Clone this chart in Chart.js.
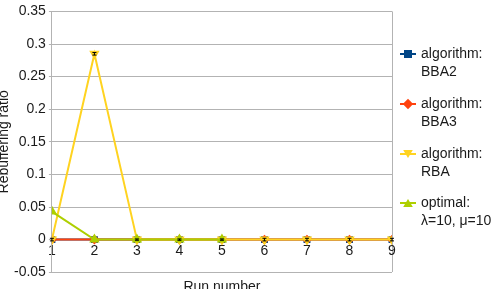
<!DOCTYPE html>
<html>
<head>
<meta charset="utf-8">
<script src="https://cdn.jsdelivr.net/npm/chart.js@4"></script>
<style>
  html, body { margin: 0; padding: 0; background: #fff; }
  #wrap { width: 502px; height: 289px; }
</style>
</head>
<body>
<div id="wrap"><canvas id="cv"></canvas></div>
<script>
var runs = [1, 2, 3, 4, 5, 6, 7, 8, 9];
var bba2 = [0, 0, 0, 0, 0, 0, 0, 0, 0];
var bba3 = [0, 0, 0, 0, 0, 0, 0, 0, 0];
var rba = [0, 0.285, 0, 0, 0, 0, 0, 0, 0];
var rbaErr = [0.002, 0.002, 0.001, 0.001, 0.001, 0.002, 0.002, 0.002, 0.002];
var optimal = [0.043, 0, 0, 0, 0];
var seriesNames = [['algorithm:', 'BBA2'], ['algorithm:', 'BBA3'], ['algorithm:', 'RBA'], ['optimal:', 'λ=10, μ=10']];
var yTicks = [-0.05, 0, 0.05, 0.1, 0.15, 0.2, 0.25, 0.3, 0.35];

var FONT = '"Liberation Sans", Arial, sans-serif';
var GRID = '#b3b3b3';

function pts(vals) {
  return vals.map(function (v, i) { return { x: runs[i], y: v }; });
}

// little marker shapes, used by the legend
function marker(ctx, style, x, y, r, color) {
  ctx.save();
  ctx.fillStyle = color;
  ctx.beginPath();
  if (style === 'rect') {
    ctx.rect(x - r, y - r, 2 * r, 2 * r);
  } else if (style === 'rectRot') {
    ctx.moveTo(x, y - r * 1.3); ctx.lineTo(x + r * 1.3, y); ctx.lineTo(x, y + r * 1.3); ctx.lineTo(x - r * 1.3, y);
  } else if (style === 'down') {
    ctx.moveTo(x - r * 1.2, y - r); ctx.lineTo(x + r * 1.2, y - r); ctx.lineTo(x, y + r);
  } else {
    ctx.moveTo(x - r * 1.2, y + r); ctx.lineTo(x + r * 1.2, y + r); ctx.lineTo(x, y - r);
  }
  ctx.closePath();
  ctx.fill();
  ctx.restore();
}

var sideLegend = {
  id: 'sideLegend',
  afterDraw: function (chart) {
    var ctx = chart.ctx;
    var styles = ['rect', 'rectRot', 'down', 'up'];
    var ys = [54, 104, 154, 203];
    ctx.save();
    ctx.font = '14px ' + FONT;
    ctx.textBaseline = 'middle';
    chart.data.datasets.forEach(function (ds, i) {
      var y = ys[i];
      ctx.strokeStyle = ds.borderColor;
      ctx.lineWidth = 2;
      ctx.beginPath(); ctx.moveTo(400, y); ctx.lineTo(416, y); ctx.stroke();
      marker(ctx, styles[i], 408, y, 4, ds.borderColor);
      ctx.fillStyle = '#1a1a1a';
      seriesNames[i].forEach(function (line, k) {
        ctx.fillText(line, 421, y + k * 18);
      });
    });
    ctx.restore();
  }
};

var errorBars = {
  id: 'errorBars',
  afterDatasetsDraw: function (chart) {
    var ctx = chart.ctx;
    var meta = chart.getDatasetMeta(2);
    var ys = chart.scales.y;
    ctx.save();
    ctx.strokeStyle = '#000';
    ctx.lineWidth = 1;
    meta.data.forEach(function (p, i) {
      var v = rba[i];
      var top = ys.getPixelForValue(v + rbaErr[i]);
      var bot = ys.getPixelForValue(v - rbaErr[i]);
      ctx.beginPath();
      ctx.moveTo(p.x, top); ctx.lineTo(p.x, bot);
      ctx.moveTo(p.x - 2, top); ctx.lineTo(p.x + 2, top);
      ctx.moveTo(p.x - 2, bot); ctx.lineTo(p.x + 2, bot);
      ctx.stroke();
    });
    ctx.restore();
  }
};

var ctx = document.getElementById('cv').getContext('2d');

var myChart = new Chart(ctx, {
  type: 'line',
  data: {
    datasets: [
      { label: 'algorithm: BBA2', data: pts(bba2), borderColor: '#004586', backgroundColor: '#004586',
        pointStyle: 'rect', pointRadius: 3.5, borderWidth: 2, order: 4 },
      { label: 'algorithm: BBA3', data: pts(bba3), borderColor: '#ff420e', backgroundColor: '#ff420e',
        pointStyle: 'rectRot', pointRadius: 3.5, borderWidth: 2, order: 3 },
      { label: 'algorithm: RBA', data: pts(rba), borderColor: '#ffd320', backgroundColor: '#ffd320',
        pointStyle: 'triangle', rotation: 180, pointRadius: 4, borderWidth: 2, order: 2 },
      { label: 'optimal: λ=10, μ=10', data: pts(optimal), borderColor: '#aecf00', backgroundColor: '#aecf00',
        pointStyle: 'triangle', pointRadius: 4, borderWidth: 2, order: 1 }
    ]
  },
  options: {
    responsive: true,
    maintainAspectRatio: false,
    animation: false,
    layout: { padding: { top: 2, right: 110, left: -3, bottom: -7 } },
    plugins: { legend: { display: false }, tooltip: { enabled: false } },
    scales: {
      x: {
        type: 'linear', position: 'bottom', min: 1, max: 9,
        ticks: { display: false, stepSize: 1 },
        grid: {
          drawTicks: false,
          color: function (c) { return c.tick && c.tick.value === 9 ? GRID : 'rgba(0,0,0,0)'; }
        },
        border: { display: false },
        title: { display: true, text: 'Run number', color: '#1a1a1a',
          font: { family: FONT, size: 14 }, padding: { top: 7, bottom: 0 } }
      },
      xz: {
        type: 'linear', position: { y: 0 }, min: 1, max: 9,
        ticks: { stepSize: 1, color: '#1a1a1a', font: { family: FONT, size: 14 }, padding: 3 },
        grid: { display: false, drawTicks: false, tickLength: 0 },
        border: { display: false }
      },
      y: {
        min: -0.05, max: 0.35,
        afterBuildTicks: function (s) { s.ticks = yTicks.map(function (v) { return { value: v }; }); },
        ticks: {
          color: '#1a1a1a', font: { family: FONT, size: 14 }, padding: 3,
          callback: function (v) { return String(Math.round(v * 100) / 100); }
        },
        grid: { color: GRID, tickLength: 3 },
        border: { color: GRID },
        title: { display: true, text: 'Rebuffering ratio', color: '#1a1a1a',
          font: { family: FONT, size: 14, lineHeight: 1 }, padding: { top: 0, bottom: 0 } }
      }
    }
  },
  plugins: [errorBars, sideLegend]
});
</script>
</body>
</html>
